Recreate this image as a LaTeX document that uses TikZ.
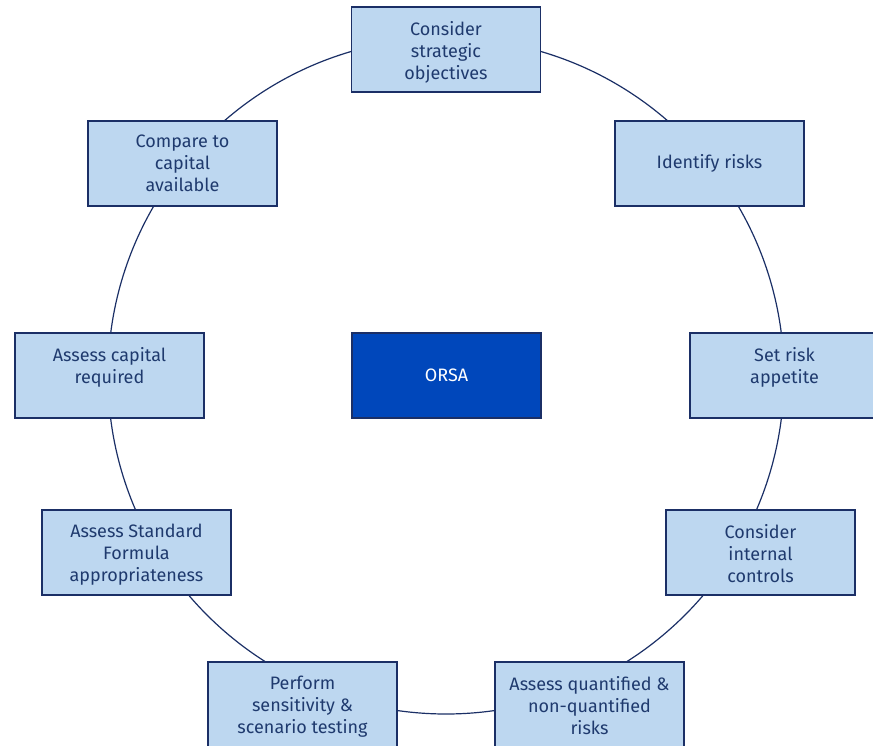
\documentclass[tikz,border=0pt]{standalone}
\usepackage{fontspec}
\setmainfont{Fira Sans}
\usetikzlibrary{positioning}
\definecolor{boxblue}{HTML}{BDD7F0}
\definecolor{navyline}{HTML}{1B2F66}
\definecolor{navytext}{HTML}{1F3A6E}
\definecolor{orsablue}{HTML}{0047BB}

\tikzset{
  stepbox/.style={draw=navyline,fill=boxblue,line width=1.2pt,minimum width=189pt,minimum height=85pt,inner sep=0pt},
  steptext/.style={text=navytext,align=center,font=\fontsize{18}{22}\selectfont,inner sep=0pt},
}

\begin{document}
\begin{tikzpicture}[x=1pt,y=-1pt]
        \useasboundingbox (0,0) rectangle (873,746);
        \clip (0,0) rectangle (873,746);
        \draw[navyline,line width=1.2pt] (446,376) circle (338pt);
        % steps round the cycle
        \foreach \p/\n/\t in {(446,49.5)/1/{Consider\\strategic\\objectives},
            (784.5,375.5)/3/{Set risk\\appetite},
            (760.5,552.5)/4/{Consider\\internal\\controls},
            (589.5,704.5)/5/{Assess quantified \&\\non-quantified\\risks},
            (302.5,704.5)/6/{Perform\\sensitivity \&\\scenario testing},
            (136.5,552.5)/7/{Assess Standard\\Formula\\appropriateness},
            (109.5,375.5)/8/{Assess capital\\required},
            (182.5,163.5)/9/{Compare to\\capital\\available}}{
          \node[stepbox] (b\n) at \p {};
          \node[steptext,below=14.5pt of b\n.north] (t\n) {\t};
        }
        \node[stepbox,steptext] (b2) at (709.5,163.5) {Identify risks};
        \node[stepbox,steptext,fill=orsablue,text=white] (orsa) at (446.5,375.5) {ORSA};
      \end{tikzpicture}
\end{document}
